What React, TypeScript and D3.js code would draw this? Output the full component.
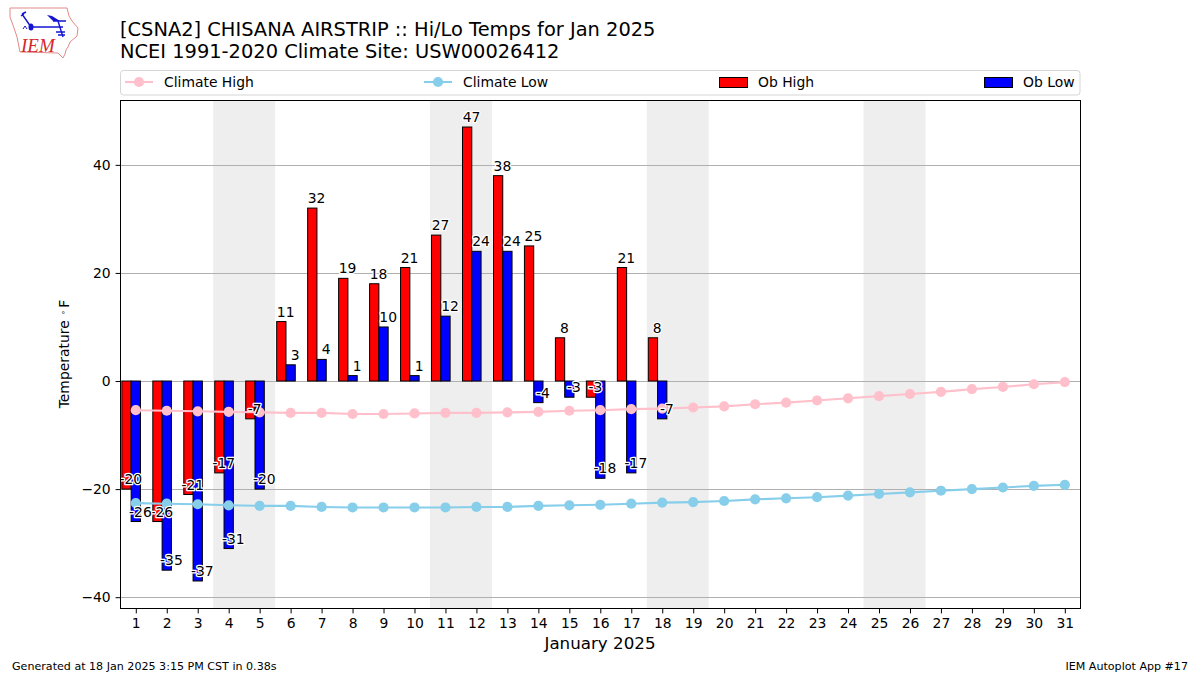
import React, { useEffect, useRef } from "react";
import * as d3 from "d3";

const days = d3.range(1, 32);
const obDays = d3.range(1, 19);
const obHigh = [-20, -26, -21, -17, -7, 11, 32, 19, 18, 21, 27, 47, 38, 25, 8, -3, 21, 8];
const obLow = [-26, -35, -37, -31, -20, 3, 4, 1, 10, 1, 12, 24, 24, -4, -3, -18, -17, -7];
const climateHigh = [-5.4, -5.5, -5.6, -5.7, -5.8, -5.9, -5.9, -6.1, -6.1, -6.0, -5.9, -5.9, -5.8, -5.7, -5.5, -5.4, -5.2, -5.1, -4.9, -4.7, -4.3, -4.0, -3.6, -3.2, -2.8, -2.4, -2.0, -1.5, -1.1, -0.6, -0.2];
const climateLow = [-22.6, -22.7, -22.8, -23.0, -23.1, -23.1, -23.3, -23.4, -23.4, -23.4, -23.4, -23.3, -23.3, -23.1, -23.0, -22.9, -22.7, -22.5, -22.4, -22.2, -21.9, -21.7, -21.5, -21.2, -20.9, -20.6, -20.3, -20.0, -19.7, -19.4, -19.2];
const weekends = [[3.5, 5.5], [10.5, 12.5], [17.5, 19.5], [24.5, 26.5]];
const yTicks = [-40, -20, 0, 20, 40];

const FONT = "'DejaVu Sans', sans-serif";
const W = 1200, H = 675;
const left = 120, right = 1080, top = 100, bottom = 608;
const BAR = 0.3;

export default function App() {
  const ref = useRef<SVGSVGElement>(null);

  useEffect(() => {
    const svg = d3.select(ref.current);
    svg.selectAll("*").remove();

    const x = d3.scaleLinear().domain([0.5, 31.5]).range([left + 0.3, right + 0.3]);
    const y = d3.scaleLinear().domain([-42, 52]).range([bottom, top]);
    const bw = x(BAR) - x(0);

    const plot = svg.append("g");

    // weekend shading
    plot.selectAll(null)
      .data(weekends)
      .enter()
      .append("rect")
      .attr("x", d => x(d[0]))
      .attr("width", d => x(d[1]) - x(d[0]))
      .attr("y", top)
      .attr("height", bottom - top)
      .attr("fill", "#eeeeee");

    // grid
    plot.selectAll(null)
      .data(yTicks)
      .enter()
      .append("line")
      .attr("x1", left)
      .attr("x2", right)
      .attr("y1", d => Math.round(y(d)) + 0.5)
      .attr("y2", d => Math.round(y(d)) + 0.5)
      .attr("stroke", "#b0b0b0")
      .attr("stroke-width", 1);

    const bars = (data: number[], color: string, shift: number) => {
      plot.selectAll(null)
        .data(data)
        .enter()
        .append("rect")
        .attr("x", (d, i) => x(obDays[i] + shift) - bw / 2)
        .attr("width", bw)
        .attr("y", d => y(Math.max(d, 0)))
        .attr("height", d => Math.abs(y(d) - y(0)))
        .attr("fill", color)
        .attr("stroke", "black")
        .attr("stroke-width", 1);
    };
    bars(obHigh, "red", -BAR);
    bars(obLow, "blue", 0);

    const climate = (data: number[], color: string) => {
      const line = d3.line<number>().x((d, i) => x(days[i])).y(d => y(d));
      plot.append("path")
        .attr("d", line(data))
        .attr("fill", "none")
        .attr("stroke", color)
        .attr("stroke-width", 2.1);
      plot.selectAll(null)
        .data(data)
        .enter()
        .append("circle")
        .attr("cx", (d, i) => x(days[i]))
        .attr("cy", d => y(d))
        .attr("r", 5.1)
        .attr("fill", color);
    };
    climate(climateHigh, "pink");
    climate(climateLow, "skyblue");

    const labels = (data: number[], shift: number) => {
      plot.selectAll(null)
        .data(data)
        .enter()
        .append("text")
        .attr("x", (d, i) => x(obDays[i] + shift))
        .attr("y", d => y(d) - 5)
        .attr("text-anchor", "middle")
        .attr("font-family", FONT)
        .attr("font-size", 13.9)
        .attr("fill", "black")
        .attr("stroke", "white")
        .attr("stroke-width", 2.6)
        .attr("paint-order", "stroke")
        .attr("stroke-linejoin", "round")
        .text(d => d);
    };
    labels(obHigh, -0.16);
    labels(obLow, 0.15);

    // frame
    plot.append("rect")
      .attr("x", left + 0.5)
      .attr("y", top + 0.5)
      .attr("width", right - left)
      .attr("height", bottom - top)
      .attr("fill", "none")
      .attr("stroke", "black");

    // axes
    const xAxis = d3.axisBottom(x).tickValues(days).tickFormat(d3.format("d")).tickSize(4.9).tickPadding(4.9);
    const gx = svg.append("g").attr("transform", `translate(0,${bottom + 0.5})`).call(xAxis);
    const yAxis = d3.axisLeft(y).tickValues(yTicks).tickSize(4.9).tickPadding(4.9);
    const gy = svg.append("g").attr("transform", `translate(${left + 0.5},0)`).call(yAxis);
    [gx, gy].forEach(g => {
      g.select(".domain").remove();
      g.selectAll("text").attr("font-family", FONT).attr("font-size", 13.9).attr("fill", "black");
    });

    const txt = (s: string, px: number, py: number, size: number, anchor = "start") =>
      svg.append("text")
        .attr("x", px)
        .attr("y", py)
        .attr("font-family", FONT)
        .attr("font-size", size)
        .attr("text-anchor", anchor)
        .attr("fill", "black")
        .text(s);

    txt("January 2025", 600, 649, 16.7, "middle");
    // degree sign set as a small raised glyph, with a gap before the F
    const yLabel = txt("Temperature", 0, 0, 13.9, "middle")
      .attr("transform", "translate(69,354) rotate(-90)");
    yLabel.append("tspan").attr("dx", 5).attr("dy", -3).attr("font-size", 9).attr("fill", "#444").text("∘");
    yLabel.append("tspan").attr("dx", 2).attr("dy", 3).text("F");
    txt("[CSNA2] CHISANA AIRSTRIP :: Hi/Lo Temps for Jan 2025", 120, 36, 19.42);
    txt("NCEI 1991-2020 Climate Site: USW00026412", 120, 58, 19.42);
    txt("Generated at 18 Jan 2025 3:15 PM CST in 0.38s", 12, 670, 11.1);
    txt("IEM Autoplot App #17", 1188, 670, 11.1, "end");

    // legend
    svg.append("rect")
      .attr("x", 120.5).attr("y", 70.5)
      .attr("width", 959.5).attr("height", 24.5)
      .attr("rx", 3)
      .attr("fill", "white")
      .attr("stroke", "#d5d5d5");
    const ly = 82;
    const lineKey = (x0: number, color: string, label: string) => {
      svg.append("line").attr("x1", x0).attr("x2", x0 + 28).attr("y1", ly).attr("y2", ly)
        .attr("stroke", color).attr("stroke-width", 2.1);
      svg.append("circle").attr("cx", x0 + 14).attr("cy", ly).attr("r", 5.1).attr("fill", color);
      txt(label, x0 + 39, ly + 4.5, 13.9);
    };
    const boxKey = (x0: number, color: string, label: string) => {
      svg.append("rect").attr("x", x0 + 0.5).attr("y", ly - 4.5).attr("width", 28).attr("height", 10)
        .attr("fill", color).attr("stroke", "black");
      txt(label, x0 + 39, ly + 4.5, 13.9);
    };
    lineKey(125, "pink", "Climate High");
    lineKey(424, "skyblue", "Climate Low");
    boxKey(719, "red", "Ob High");
    boxKey(984, "blue", "Ob Low");

    // IEM logo
    const logo = svg.append("g");
    logo.append("path")
      .attr("d", "M10,8 L67,8 L69,16 L72,21 L78,28 L77,36 L70,42 L68,47 L66,50 L65,54 L63,58 L58,53 L20,52 L17,37 L14,28 L10,17 Z")
      .attr("fill", "white")
      .attr("stroke", "#e08a8a")
      .attr("stroke-width", 1);
    logo.append("path")
      .attr("d", "M31,27 L63,27 M58,21 L63,37 M31,27 L22,14 M22,14 L26,12 M21,16 L24,14 M53,21 L66,21 M56,32 L65,32 M58,35 L65,35")
      .attr("fill", "none")
      .attr("stroke", "#1414d2")
      .attr("stroke-width", 1.4);
    logo.append("ellipse").attr("cx", 31).attr("cy", 27).attr("rx", 2.5).attr("ry", 3.5).attr("fill", "#1414d2");
    logo.append("path").attr("d", "M47,15 L52,16 L60,21 L53,21 Z").attr("fill", "#1414d2");
    logo.append("path").attr("d", "M23,29 l2,-3 l2,3").attr("fill", "none").attr("stroke", "#1414d2");
    logo.append("text")
      .attr("x", 21).attr("y", 52)
      .attr("font-family", "'Liberation Serif', serif")
      .attr("font-style", "italic")
      .attr("font-size", 19)
      .attr("fill", "#d62728")
      .text("IEM");
  }, []);

  return (
    <svg ref={ref} width={W} height={H} style={{ position: "absolute", left: 0, top: 0, background: "white" }} />
  );
}
